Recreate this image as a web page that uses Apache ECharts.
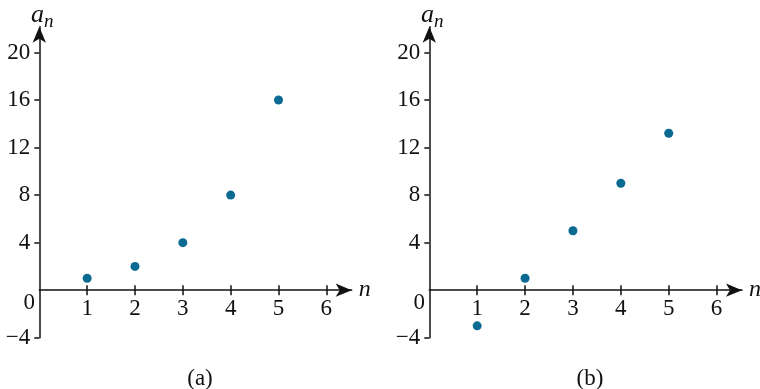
<!DOCTYPE html>
<html>
<head>
<meta charset="utf-8">
<script src="https://cdn.jsdelivr.net/npm/echarts@6/dist/echarts.min.js"></script>
<style>html,body{margin:0;padding:0;background:#fff;}#c{width:760px;height:389px;}</style>
</head>
<body>
<div id="c"></div>
<script>
const nValues = [1, 2, 3, 4, 5];
const seriesA = [1, 2, 4, 8, 16];
const seriesB = [-3, 1, 5, 9, 13.2];
const xTicks = [1, 2, 3, 4, 5, 6];
const yTicks = [-4, 4, 8, 12, 16, 20];
const panelLabels = ['(a)', '(b)'];

const FONT = '"Liberation Serif", "DejaVu Serif", serif';
const AX = '#111';
const DOT = '#0b6a92';
const X_MIN = 0, X_MAX = 6.53, Y_MIN = -4, Y_MAX = 22.17;

const chart = echarts.init(document.getElementById('c'));

const grids = [
  { left: 39.3, top: 26.7, width: 312.4, height: 311, outerBoundsMode: 'none', containLabel: false },
  { left: 429.3, top: 26.7, width: 312.7, height: 311, outerBoundsMode: 'none', containLabel: false }
];

const xAxes = [], yAxes = [], series = [];
grids.forEach((g, i) => {
  const zeroOffset = -(0 - Y_MIN) / (Y_MAX - Y_MIN) * g.height;
  xAxes.push({
    type: 'value', gridIndex: i, min: X_MIN, max: X_MAX, position: 'bottom', offset: zeroOffset,
    splitLine: { show: false },
    axisLine: { show: true, onZero: false, symbol: ['none', 'arrow'], symbolSize: [10, 16], symbolOffset: [0, 0], lineStyle: { color: AX, width: 1.5 } },
    axisTick: { show: true, length: 5, customValues: xTicks, lineStyle: { color: AX, width: 1.5 } },
    axisLabel: { show: true, customValues: xTicks, margin: 7, color: AX, fontFamily: FONT, fontSize: 23 },
    name: 'n', nameLocation: 'end', nameGap: 7,
    nameTextStyle: { fontFamily: FONT, fontStyle: 'italic', fontSize: 24, color: AX, verticalAlign: 'middle', padding: [0, 0, 4, 0] }
  });
  xAxes.push({
    type: 'value', gridIndex: i, min: X_MIN, max: X_MAX, position: 'bottom', offset: zeroOffset,
    splitLine: { show: false },
    axisLine: { show: false, onZero: false },
    axisTick: { show: true, inside: true, length: 5, customValues: xTicks, lineStyle: { color: AX, width: 1.5 } },
    axisLabel: { show: false }
  });
  yAxes.push({
    type: 'value', gridIndex: i, min: Y_MIN, max: Y_MAX,
    splitLine: { show: false },
    axisLine: { show: true, onZero: true, symbol: ['none', 'arrow'], symbolSize: [10, 16], symbolOffset: [0, 0], lineStyle: { color: AX, width: 1.5 } },
    axisTick: { show: true, length: 5, customValues: yTicks, lineStyle: { color: AX, width: 1.5 } },
    axisLabel: { show: true, customValues: yTicks, margin: 9, color: AX, fontFamily: FONT, fontSize: 23,
      formatter: v => String(v).replace('-', '\u2212') },
    name: '{a|a}{s|n}', nameLocation: 'end', nameGap: 3,
    nameTextStyle: {
      padding: [0, 0, 0, 6],
      rich: {
        a: { fontFamily: FONT, fontStyle: 'italic', fontSize: 26, color: AX, verticalAlign: 'top', lineHeight: 22 },
        s: { fontFamily: FONT, fontStyle: 'italic', fontSize: 19, color: AX, verticalAlign: 'top', lineHeight: 16, padding: [11, 0, 0, 0] }
      }
    }
  });
  yAxes.push({
    type: 'value', gridIndex: i, min: Y_MIN, max: Y_MAX,
    splitLine: { show: false },
    axisLine: { show: false, onZero: true },
    axisTick: { show: true, inside: true, length: 5, customValues: yTicks, lineStyle: { color: AX, width: 1.5 } },
    axisLabel: { show: false }
  });
  const vals = i === 0 ? seriesA : seriesB;
  series.push({
    type: 'scatter', xAxisIndex: i * 2, yAxisIndex: i * 2,
    symbol: 'circle', symbolSize: 9,
    itemStyle: { color: DOT, opacity: 1 },
    data: nValues.map((n, k) => [n, vals[k]]),
    silent: true
  });
  series.push({
    type: 'scatter', xAxisIndex: i * 2, yAxisIndex: i * 2,
    symbolSize: 1, silent: true,
    itemStyle: { opacity: 0 },
    data: [[0, 0]],
    label: { show: true, formatter: '0', position: 'bottom', distance: 0, offset: [-10, 1], color: AX, opacity: 1, fontFamily: FONT, fontSize: 23 }
  });
});

chart.setOption({
  animation: false,
  grid: grids,
  xAxis: xAxes,
  yAxis: yAxes,
  series: series,
  title: [
    { text: panelLabels[0], left: 195, top: 362, textAlign: 'center', textStyle: { fontFamily: FONT, fontSize: 23, fontWeight: 'normal', color: AX } },
    { text: panelLabels[1], left: 585, top: 362, textAlign: 'center', textStyle: { fontFamily: FONT, fontSize: 23, fontWeight: 'normal', color: AX } }
  ]
});
</script>
</body>
</html>
